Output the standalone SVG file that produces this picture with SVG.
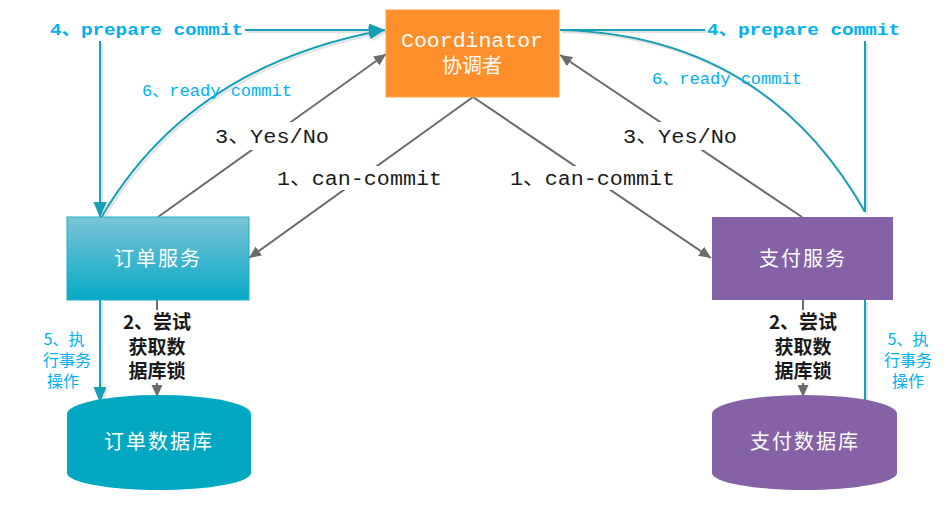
<svg xmlns="http://www.w3.org/2000/svg" width="948" height="510" viewBox="0 0 948 510">
  <style>
    .mono { font-family: "Liberation Mono", "Noto Sans CJK SC", monospace; }
    .cjk { font-family: "Noto Sans CJK SC", "Liberation Sans", sans-serif; }
    .white { fill: #ffffff; }
    .dark { fill: #1a1a1a; }
    .cyan { fill: #00B0F0; }
    .gray-line { stroke: #6b6b6b; stroke-width: 2; fill: none; }
    .teal-line { stroke: #12A0B6; stroke-width: 2; fill: none; }
    .bg { fill: #ffffff; }
  </style>
  <defs>
    <marker id="arrow-gray" markerUnits="userSpaceOnUse" markerWidth="13" markerHeight="12" refX="12" refY="5.5" orient="auto">
      <path d="M0,0 L12,5.5 L0,11 z" fill="#6b6b6b"/>
    </marker>
    <marker id="arrow-teal" markerUnits="userSpaceOnUse" markerWidth="17" markerHeight="14" refX="16" refY="6.5" orient="auto">
      <path d="M0,0 L16,6.5 L0,13 z" fill="#12A0B6"/>
    </marker>
    <linearGradient id="order-fill" x1="0" y1="0" x2="0" y2="1">
      <stop offset="0" stop-color="#7CC4D7"/>
      <stop offset="1" stop-color="#06A9C6"/>
    </linearGradient>
    <filter id="soft-shadow" x="-10%" y="-10%" width="120%" height="120%">
      <feDropShadow dx="2" dy="2" stdDeviation="0.6" flood-color="#c8c8c8" flood-opacity="0.55"/>
    </filter>
  </defs>

  <!-- connectors -->
  <g id="connectors">
    <!-- 1 can-commit -->
    <line class="gray-line" x1="473" y1="97" x2="249" y2="258" marker-end="url(#arrow-gray)"/>
    <line class="gray-line" x1="473" y1="97" x2="711" y2="258" marker-end="url(#arrow-gray)"/>
    <!-- 3 Yes/No -->
    <line class="gray-line" x1="158" y1="217" x2="386" y2="54" marker-end="url(#arrow-gray)"/>
    <line class="gray-line" x1="802" y1="217" x2="560" y2="55" marker-end="url(#arrow-gray)"/>
    <!-- 2 lock requests -->
    <line class="gray-line" x1="157" y1="300" x2="157" y2="397" marker-end="url(#arrow-gray)"/>
    <line class="gray-line" x1="803" y1="300" x2="803" y2="397" marker-end="url(#arrow-gray)"/>

    <g filter="url(#soft-shadow)">
      <!-- 4 prepare commit (left) -->
      <line class="teal-line" x1="245" y1="30" x2="385" y2="30" marker-end="url(#arrow-teal)"/>
      <line class="teal-line" x1="100" y1="41" x2="100" y2="218" marker-end="url(#arrow-teal)"/>
      <!-- 4 prepare commit (right) -->
      <line class="teal-line" x1="560" y1="30" x2="705" y2="30"/>
      <line class="teal-line" x1="865" y1="41" x2="865" y2="212"/>
      <!-- 6 ready commit -->
      <path class="teal-line" d="M101,218 Q190,65 385,30" marker-end="url(#arrow-teal)"/>
      <path class="teal-line" d="M560,30 Q765,35 865,212"/>
      <!-- 5 execute transaction -->
      <line class="teal-line" x1="100" y1="300" x2="100" y2="403" marker-end="url(#arrow-teal)"/>
      <line class="teal-line" x1="865" y1="300" x2="865" y2="404"/>
    </g>

    <!-- label backgrounds -->
    <rect class="bg" x="273" y="166" width="172" height="24"/>
    <rect class="bg" x="506" y="166" width="172" height="24"/>
    <rect class="bg" x="211" y="122" width="122" height="28"/>
    <rect class="bg" x="619" y="122" width="122" height="28"/>
    <rect class="bg" x="112" y="310" width="90" height="73"/>
    <rect class="bg" x="758" y="310" width="90" height="73"/>

    <!-- labels -->
    <text class="mono dark" x="277" y="185" font-size="20" textLength="165" lengthAdjust="spacingAndGlyphs">1、can-commit</text>
    <text class="mono dark" x="510" y="185" font-size="20" textLength="165" lengthAdjust="spacingAndGlyphs">1、can-commit</text>
    <text class="mono dark" x="215" y="143" font-size="20" textLength="114" lengthAdjust="spacingAndGlyphs">3、Yes/No</text>
    <text class="mono dark" x="623" y="143" font-size="20" textLength="114" lengthAdjust="spacingAndGlyphs">3、Yes/No</text>

    <text class="mono cyan" x="50" y="35" font-size="17" font-weight="bold" textLength="193" lengthAdjust="spacingAndGlyphs">4、prepare commit</text>
    <text class="mono cyan" x="707" y="35" font-size="17" font-weight="bold" textLength="193" lengthAdjust="spacingAndGlyphs">4、prepare commit</text>
    <text class="mono cyan" x="142" y="96" font-size="16" textLength="150" lengthAdjust="spacingAndGlyphs">6、ready commit</text>
    <text class="mono cyan" x="652" y="84" font-size="16" textLength="150" lengthAdjust="spacingAndGlyphs">6、ready commit</text>

    <g class="cjk dark" font-size="19" font-weight="bold" text-anchor="middle">
      <text x="157" y="329">2、尝试</text>
      <text x="157" y="354">获取数</text>
      <text x="157" y="378">据库锁</text>
      <text x="803" y="329">2、尝试</text>
      <text x="803" y="354">获取数</text>
      <text x="803" y="378">据库锁</text>
    </g>
    <g class="cjk cyan" font-size="16" text-anchor="middle">
      <text x="64" y="345">5、执</text>
      <text x="67" y="366">行事务</text>
      <text x="63" y="387">操作</text>
      <text x="908" y="345">5、执</text>
      <text x="908" y="366">行事务</text>
      <text x="908" y="387">操作</text>
    </g>
  </g>

  <!-- coordinator -->
  <g id="coordinator">
    <rect x="386" y="10" width="173" height="87" fill="#FF8F2B" stroke="#FFA04A" stroke-width="1"/>
    <text class="mono white" x="472" y="47" font-size="20" text-anchor="middle" textLength="142" lengthAdjust="spacingAndGlyphs">Coordinator</text>
    <text class="cjk white" x="472" y="73" font-size="20" text-anchor="middle">协调者</text>
  </g>

  <!-- order service -->
  <g id="order-service">
    <rect x="67" y="217" width="182" height="83" fill="url(#order-fill)" stroke="#20AFC8" stroke-width="1"/>
    <text class="cjk white" x="158" y="266" font-size="20" letter-spacing="2" text-anchor="middle">订单服务</text>
  </g>

  <!-- payment service -->
  <g id="payment-service">
    <rect x="712" y="217" width="181" height="83" fill="#8562A6"/>
    <text class="cjk white" x="803" y="266" font-size="20" letter-spacing="2" text-anchor="middle">支付服务</text>
  </g>

  <!-- order database -->
  <g id="order-db">
    <path d="M67,414 A92,19 0 0 1 251,414 V473 A92,17 0 0 1 67,473 Z" fill="#02A7C1"/>
    <text class="cjk white" x="159" y="449" font-size="20" letter-spacing="2" text-anchor="middle">订单数据库</text>
  </g>

  <!-- payment database -->
  <g id="payment-db">
    <path d="M712,414 A92.5,19 0 0 1 897,414 V473 A92.5,17 0 0 1 712,473 Z" fill="#8562A6"/>
    <text class="cjk white" x="805" y="449" font-size="20" letter-spacing="2" text-anchor="middle">支付数据库</text>
  </g>
</svg>
